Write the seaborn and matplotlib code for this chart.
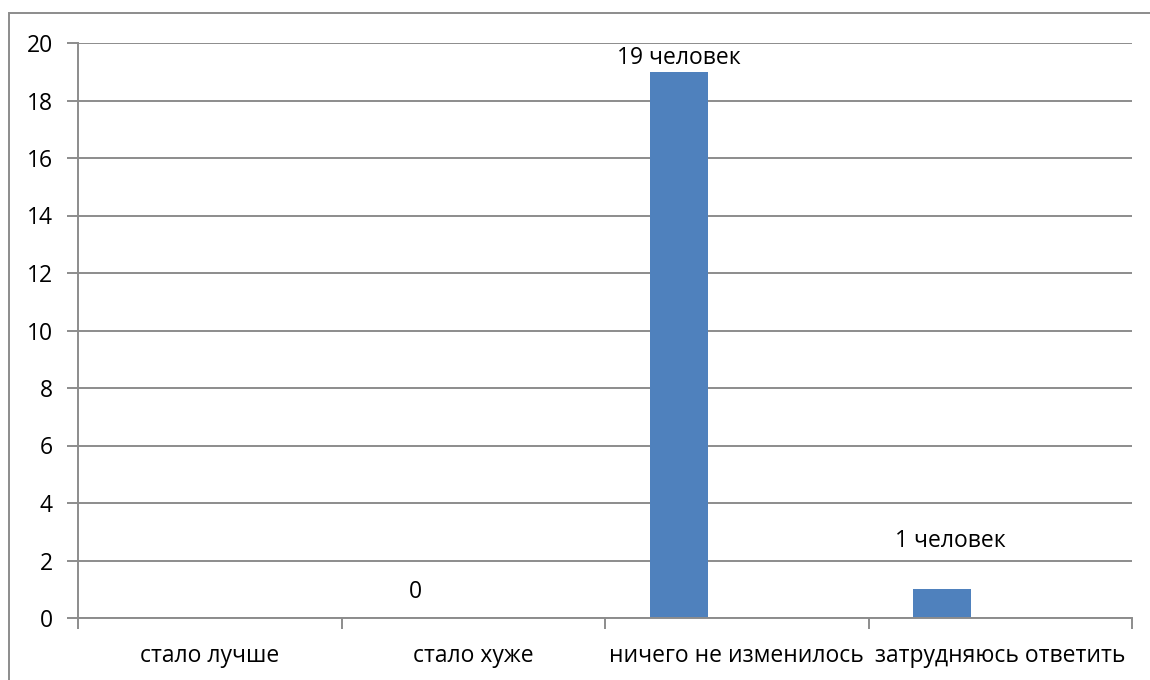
import matplotlib
matplotlib.use("Agg")
import matplotlib.pyplot as plt
from matplotlib.patches import Rectangle
from matplotlib.ticker import FixedLocator
import seaborn as sns
import pandas as pd
import numpy as np

# Survey answers and number of respondents per answer
categories = ["стало лучше", "стало хуже", "ничего не изменилось", "затрудняюсь ответить"]
series_names = ["Ряд 1", "Ряд 2", "Ряд 3"]
respondents = [0, 0, 19, 1]
bar_labels = ["", "0", "19 человек", "1 человек"]
y_ticks = [0, 2, 4, 6, 8, 10, 12, 14, 16, 18, 20]

# Long-form table: the first series holds the counts, the other two are empty
rows = []
for name in series_names:
    for cat, val in zip(categories, respondents):
        rows.append({"answer": cat, "series": name,
                     "count": val if name == series_names[0] else np.nan})
df = pd.DataFrame(rows)

sns.set_theme(style="white")
plt.rcParams["font.family"] = ["Open Sans", "DejaVu Sans"]

BAR = "#4F81BD"
GRID = "#8c8c8c"
FS = 16.5

fig = plt.figure(figsize=(11.5, 6.8), dpi=100)
ax = fig.add_axes([78 / 1150, 1 - 618 / 680, (1132 - 78) / 1150, (618 - 43) / 680])

sns.barplot(data=df, x="answer", y="count", hue="series", order=categories,
            hue_order=series_names, palette=[BAR, BAR, BAR], saturation=1,
            width=0.66, errorbar=None, linewidth=0, legend=False, ax=ax, zorder=3)

ax.set_xlim(-0.5, len(categories) - 0.5)
ax.set_ylim(y_ticks[0], y_ticks[-1])
ax.set_yticks(y_ticks)
ax.yaxis.grid(True, color=GRID, linewidth=1.4, zorder=0)
ax.set_xlabel("")
ax.set_ylabel("")

for side in ("top", "right"):
    ax.spines[side].set_visible(False)
for side in ("left", "bottom"):
    ax.spines[side].set_color(GRID)
    ax.spines[side].set_linewidth(1.4)
    ax.spines[side].set_zorder(4)

ax.tick_params(axis="y", which="major", direction="out", length=8, width=1.4,
               color=GRID, pad=10, labelsize=FS, labelcolor="black", left=True)
ax.tick_params(axis="x", which="major", length=0, pad=19, labelsize=FS,
               labelcolor="black")
ax.xaxis.set_minor_locator(FixedLocator(np.arange(-0.5, len(categories), 1.0)))
ax.tick_params(axis="x", which="minor", direction="out", length=8, width=1.4,
               color=GRID, bottom=True)

# Value captions above the first series bars
offsets = {"0": (0, 19), "19 человек": (0, 10), "1 человек": (6, 35)}
for patch, text in zip(ax.containers[0], bar_labels):
    if not text:
        continue
    dx, dy = offsets[text]
    ax.annotate(text, (patch.get_x() + patch.get_width() / 2, patch.get_height()),
                xytext=(dx, dy), textcoords="offset points",
                ha="center", va="center", fontsize=FS, color="black", zorder=5)

# Chart frame
fig.add_artist(Rectangle((9 / 1150, -0.5), 2.0, 0.5 + 1 - 13 / 680,
                         transform=fig.transFigure, fill=False,
                         edgecolor=GRID, linewidth=1.4, clip_on=False))

fig.savefig("out.png", dpi=100, facecolor="white")
